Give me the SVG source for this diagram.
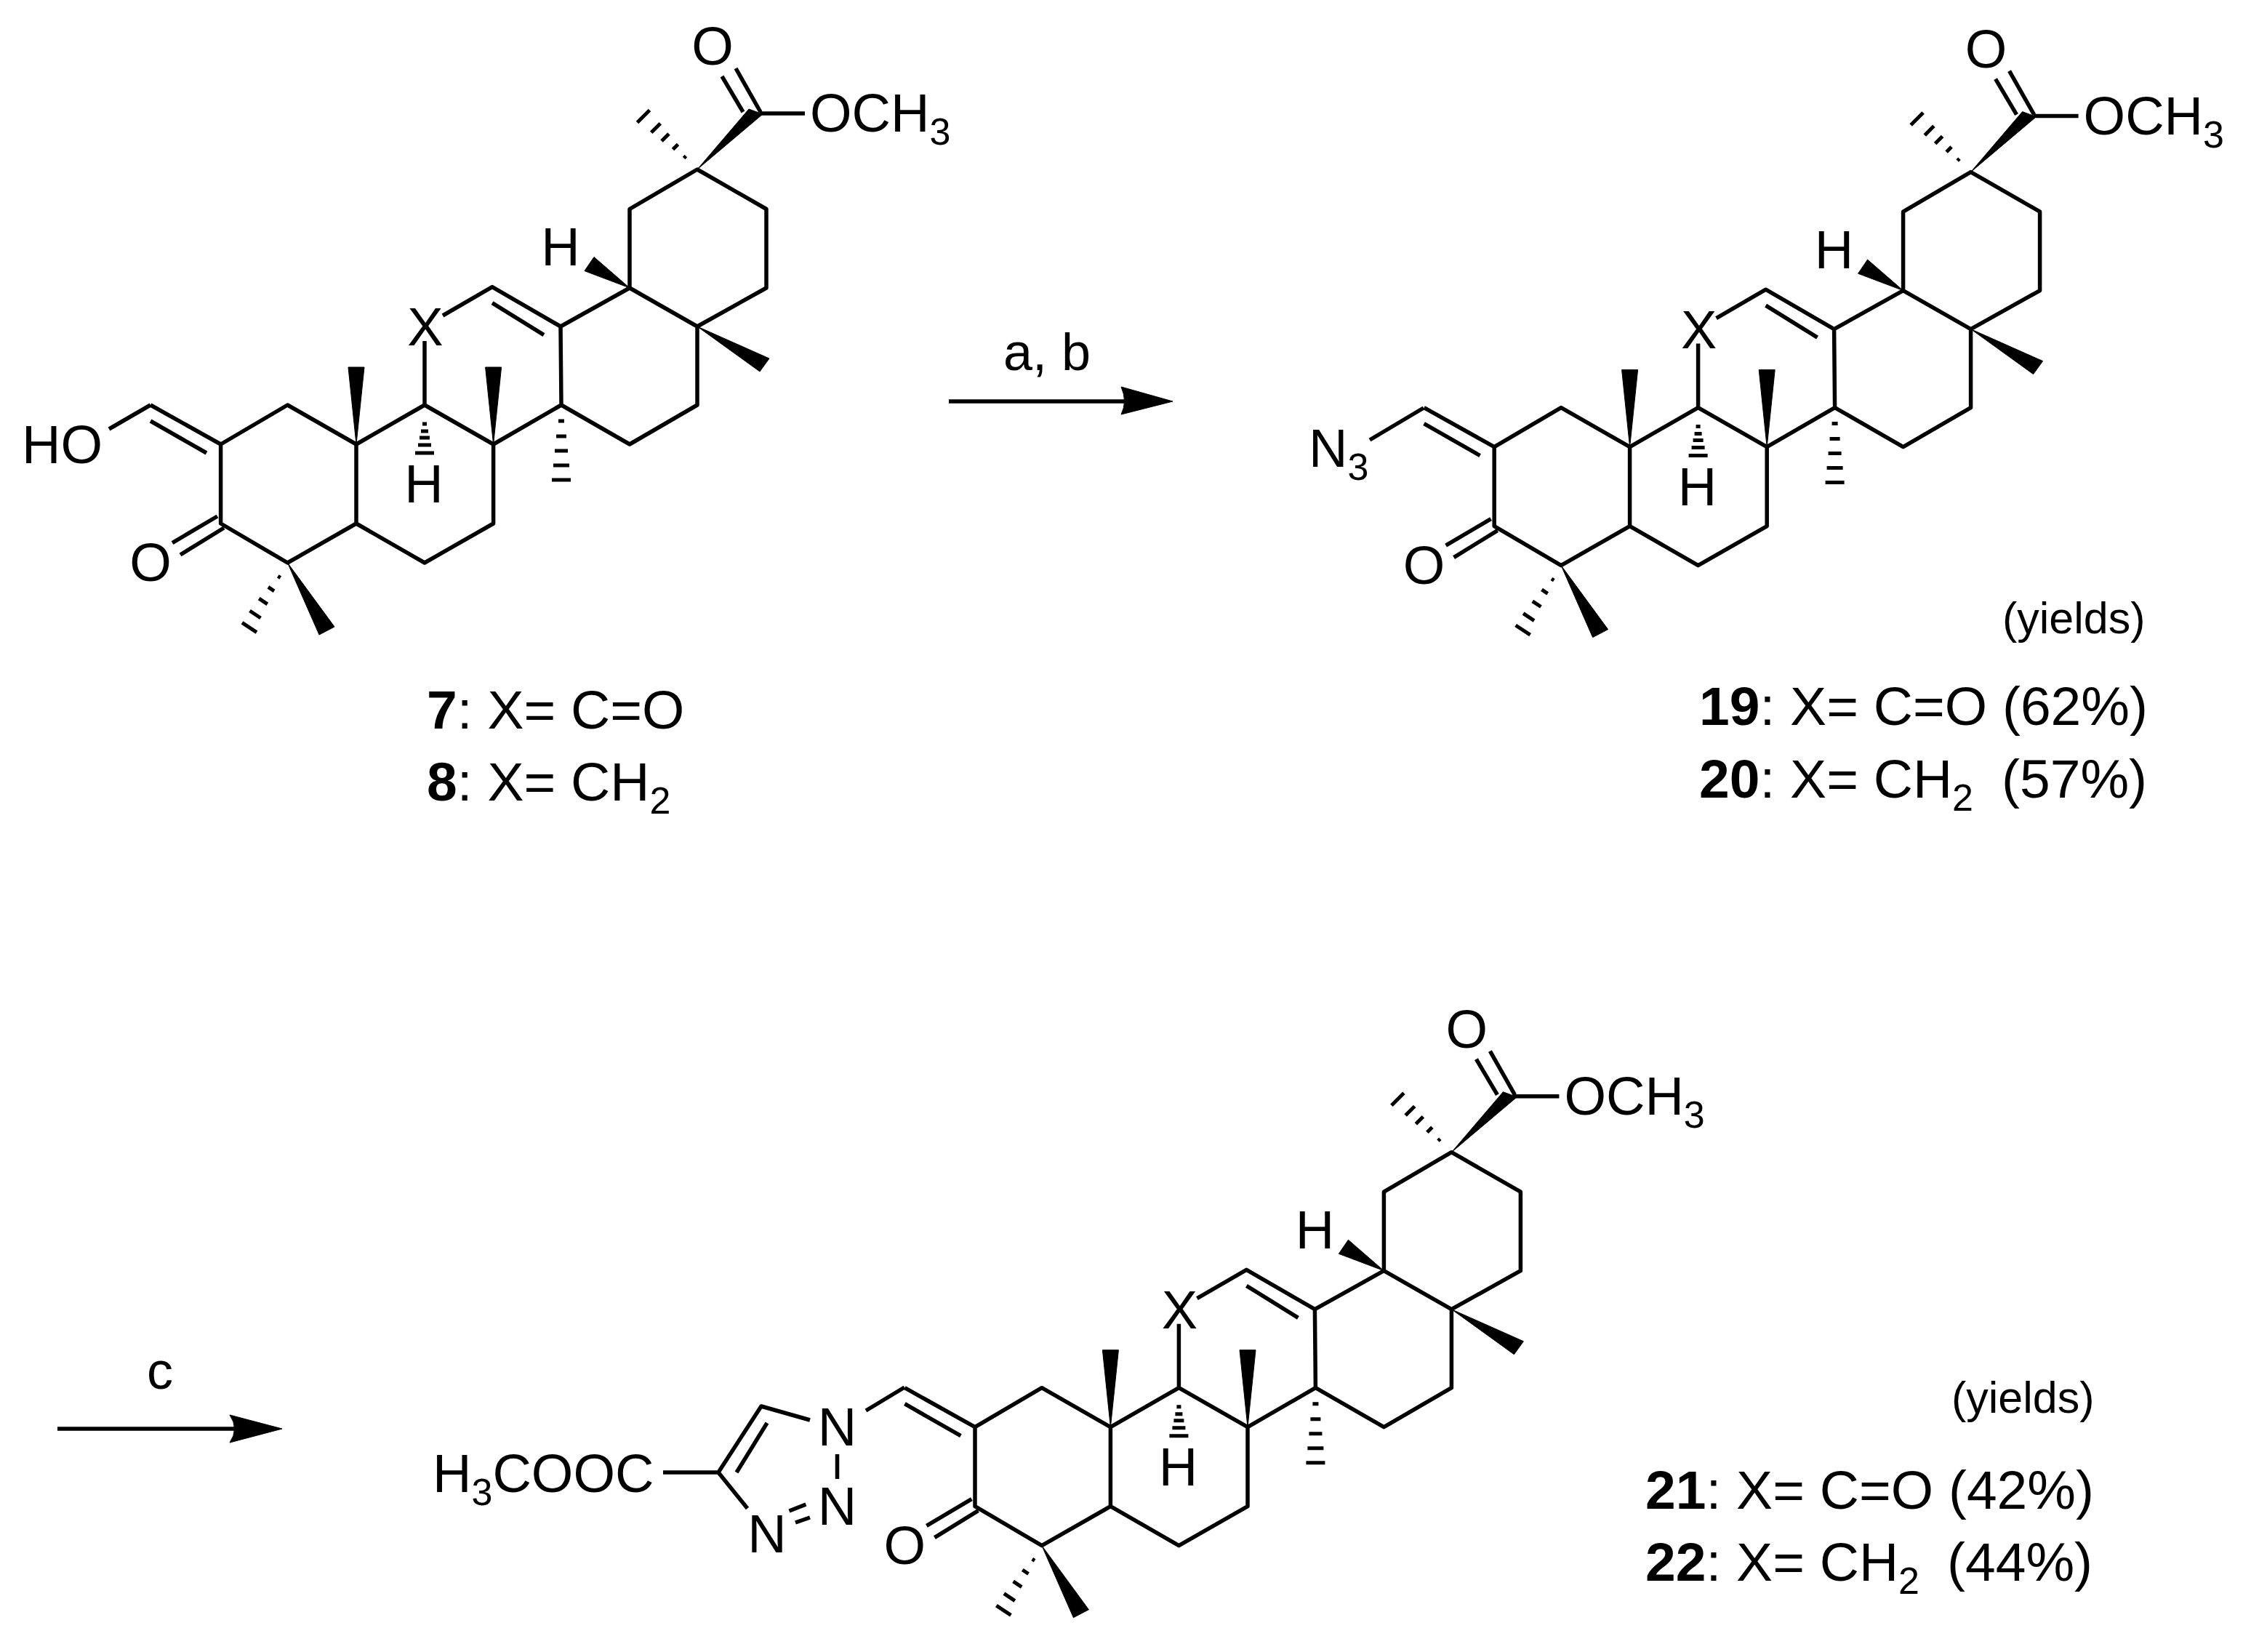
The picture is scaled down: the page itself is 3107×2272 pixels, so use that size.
<svg xmlns="http://www.w3.org/2000/svg" xmlns:xlink="http://www.w3.org/1999/xlink" width="3107" height="2272" viewBox="0 0 3107 2272">
<style>
text{font-family:"Liberation Sans",Arial,sans-serif;fill:#000}
.a{font-size:74px}
.l{font-size:75px}
.y{font-size:61px}
.m{text-anchor:middle}
.s{font-size:52px}
.b{font-weight:bold}
.bond{fill:none;stroke:#000;stroke-width:5.5;stroke-linejoin:round;stroke-linecap:butt}
.hash{fill:none;stroke:#000;stroke-width:5}
.solid{fill:#000;stroke:#000;stroke-width:1;stroke-linejoin:round}
</style>
<defs>
<g id="core">
<path class="bond" d="M207,557L303.6,611L395.5,557L490,611L584,557L678.6,611L772,557L866,611L959,557L959,449L866,396L771,449L677,394.6L609,434M771,449L772,557M207,579L284,623M677,416.6L748,460.6M584,469L584,557M866,396L866,287.5L959,233L1054,287.5L1054,396L959,449M303.6,611L303.6,720L395.5,774L490,720L490,611M490,720L584,774L678.6,720L678.6,611M299,710L237,746.6M308,726L248,763M1045,156L1107,156M1046,154L1012,94M1022,154L993,105"/>
<path class="solid" d="M490,611L479,505L501,505ZM678.6,611L667.6,505L689.6,505ZM959,449L1058,493L1045,511ZM866,396L817,353.5L804,372.6ZM395.5,774L460,862L439,873ZM959,233L1049,157L1030,150Z"/>
<path class="hash" d="M581,583H587M579,593H589M577,602H591M575,612H593M571,623H597M768,579H776M765,600H779M763,620H781M761,640H783M759,660H785M940.6,217.4L943.4,214.6M925.5,205.5L932.5,198.5M910,194L920,184M895.7,182.3L908.3,169.7M876.5,168.5L893.5,151.5M382.3,792.4L385.7,794.6M368.9,807.3L377.1,812.8M356.2,823.2L367.8,830.9M343.5,840L358.5,850M333,856.4L353,869.6"/>
</g>
</defs>
<rect width="3107" height="2272" fill="#fff"/>
<g id="compound-7-8">
<use href="#core" xlink:href="#core"/>
<path class="bond" d="M207,557L150,590"/>
<text class="a" x="30" y="637">HO</text>
<text class="a m" x="207" y="799">O</text>
<text class="a m" x="585" y="475">X</text>
<text class="a m" x="771" y="365">H</text>
<text class="a m" x="583" y="691">H</text>
<text class="a m" x="980" y="89">O</text>
<text class="a" x="1114" y="181">OCH<tspan class="s" dy="18">3</tspan></text>
<text class="l" x="587" y="1002"><tspan class="b">7</tspan>: X= C=O</text>
<text class="l" x="587" y="1101"><tspan class="b">8</tspan>: X= CH<tspan class="s" dy="18">2</tspan></text>
</g>
<g id="compound-19-20">
<g transform="translate(1751.6,3.6)">
<use href="#core" xlink:href="#core"/>
<text class="a m" x="207" y="799">O</text>
<text class="a m" x="585" y="475">X</text>
<text class="a m" x="771" y="365">H</text>
<text class="a m" x="583" y="691">H</text>
<text class="a m" x="980" y="89">O</text>
<text class="a" x="1114" y="181">OCH<tspan class="s" dy="18">3</tspan></text>
</g>
<path class="bond" d="M1958,561L1884,605"/>
<text class="a" x="1800" y="642">N<tspan class="s" dy="18">3</tspan></text>
<text class="y" x="2754" y="871">(yields)</text>
<text class="l" x="2337" y="997"><tspan class="b">19</tspan>: X= C=O (62%)</text>
<text class="l" x="2337" y="1097"><tspan class="b">20</tspan>: X= CH<tspan class="s" dy="18">2</tspan> <tspan x="2753" dy="-18">(57%)</tspan></text>
</g>
<g id="compound-21-22">
<g transform="translate(1037.4,1351.7)">
<use href="#core" xlink:href="#core"/>
<text class="a m" x="207" y="799">O</text>
<text class="a m" x="585" y="475">X</text>
<text class="a m" x="771" y="365">H</text>
<text class="a m" x="583" y="691">H</text>
<text class="a m" x="980" y="89">O</text>
<text class="a" x="1114" y="181">OCH<tspan class="s" dy="18">3</tspan></text>
</g>
<path class="bond" d="M1244,1908L1191,1940M1114,1953L1047,1934L988,2025L1028,2074.5M1055,1957L1013,2025M988,2025L912,2025M1151.5,2000L1151.5,2034M1085.5,2078L1108.4,2069M1094,2094L1114,2087"/>
<text class="a m" x="1151.5" y="1988">N</text>
<text class="a m" x="1151.5" y="2097">N</text>
<text class="a m" x="1055" y="2135">N</text>
<text class="a" x="595" y="2052">H<tspan class="s" dy="18">3</tspan><tspan dy="-18">COOC</tspan></text>
<text class="y" x="2684" y="1943">(yields)</text>
<text class="l" x="2263" y="2075"><tspan class="b">21</tspan>: X= C=O (42%)</text>
<text class="l" x="2263" y="2174"><tspan class="b">22</tspan>: X= CH<tspan class="s" dy="18">2</tspan> <tspan x="2678" dy="-18">(44%)</tspan></text>
</g>
<g id="connectors">
<path class="bond" d="M1305,552L1550,552"/>
<path class="solid" d="M1613,552L1542,532Q1551,552 1542,570Z"/>
<text class="l" x="1380" y="509" style="font-size:72px">a, b</text>
<path class="bond" d="M79,1965L325,1965"/>
<path class="solid" d="M388,1965L316,1946Q329,1965 316,1984Z"/>
<text class="l" x="202" y="1910" style="font-size:72px">c</text>
</g>
</svg>
